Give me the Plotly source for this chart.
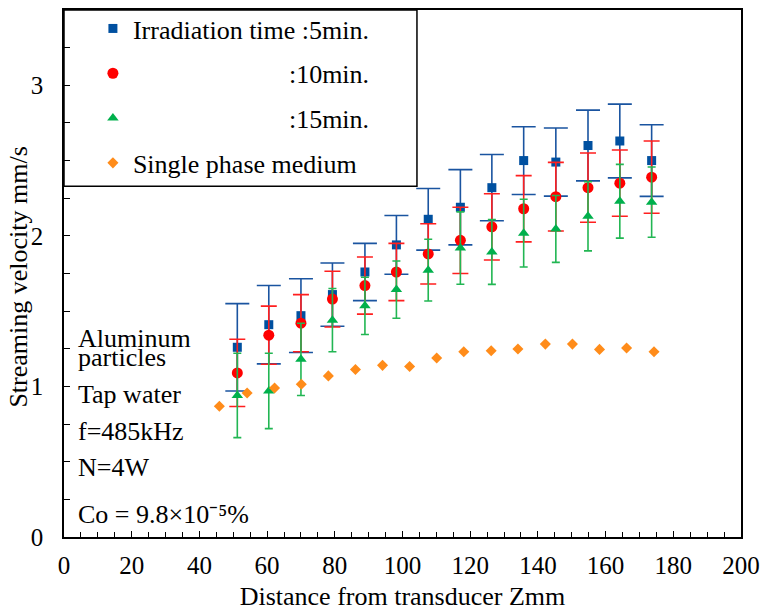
import plotly.graph_objects as go

# Distance from transducer (mm) for the irradiated-suspension measurements
z_irr = [51.2, 60.5, 70.0, 79.3, 88.9, 98.2, 107.6, 117.1, 126.4, 135.8, 145.3, 154.8, 164.2, 173.6]

# Streaming velocity (mm/s) and error half-widths per irradiation time
v_5min = [1.26, 1.41, 1.47, 1.61, 1.76, 1.94, 2.11, 2.19, 2.32, 2.50, 2.49, 2.60, 2.63, 2.50]
e_5min = [0.29, 0.26, 0.245, 0.21, 0.19, 0.195, 0.205, 0.25, 0.22, 0.225, 0.226, 0.235, 0.245, 0.238]

v_10min = [1.09, 1.34, 1.42, 1.58, 1.67, 1.76, 1.88, 1.97, 2.06, 2.18, 2.26, 2.32, 2.35, 2.39]
e_10min = [0.223, 0.193, 0.19, 0.185, 0.19, 0.19, 0.20, 0.22, 0.22, 0.22, 0.228, 0.23, 0.22, 0.24]

v_15min = [0.94, 0.97, 1.18, 1.44, 1.535, 1.643, 1.772, 1.919, 1.893, 2.018, 2.046, 2.13, 2.23, 2.224]
e_15min = [0.28, 0.25, 0.24, 0.21, 0.19, 0.19, 0.205, 0.24, 0.215, 0.225, 0.222, 0.23, 0.245, 0.233]

# Single phase medium (no particles)
z_single = [45.9, 54.1, 62.2, 70.1, 78.1, 86.1, 94.1, 102.1, 110.1, 118.1, 126.2, 134.1, 142.2, 150.2, 158.2, 166.2, 174.3]
v_single = [0.868, 0.956, 0.989, 1.015, 1.070, 1.112, 1.140, 1.132, 1.189, 1.230, 1.237, 1.248, 1.281, 1.281, 1.246, 1.255, 1.230]

x_ticks = [0, 20, 40, 60, 80, 100, 120, 140, 160, 180, 200]
y_ticks = [0, 1, 2, 3]

FONT = "Liberation Serif"
NBSP = "\u00a0"

# Plot-area geometry in pixels, used to place paper-referenced items
L, R, T, B = 64, 22, 5, 75
W, H = 765, 612
PW, PH = W - L - R, H - T - B


def px_x(px):
    return (px - L) / PW


def px_y(py):
    return (H - B - py) / PH


fig = go.Figure()

fig.add_trace(go.Scatter(
    x=z_irr, y=v_5min, mode="markers", name="Irradiation time :5min.",
    legendgroup="a",
    marker=dict(symbol="square", size=9, color="#0050A0"),
    error_y=dict(type="data", array=e_5min, visible=True,
                 color="#1A54A0", thickness=1.6, width=12),
))
fig.add_trace(go.Scatter(
    x=z_irr, y=v_10min, mode="markers", name=NBSP * 24 + ":10min.",
    legendgroup="b",
    marker=dict(symbol="circle", size=11, color="#FF0000"),
    error_y=dict(type="data", array=e_10min, visible=True,
                 color="#FF1F1F", thickness=1.6, width=8),
))
fig.add_trace(go.Scatter(
    x=z_irr, y=v_15min, mode="markers", name=NBSP * 24 + ":15min.",
    legendgroup="c",
    marker=dict(symbol="triangle-up", size=10, color="#00B04C"),
    error_y=dict(type="data", array=e_15min, visible=True,
                 color="#22B653", thickness=1.6, width=4),
))
fig.add_trace(go.Scatter(
    x=z_single, y=v_single, mode="markers", name="Single phase medium",
    legendgroup="d",
    marker=dict(symbol="diamond", size=8.5, color="#FF8C1A"),
))

# Framed box around the legend in the upper-left corner of the plot
fig.add_shape(type="rect", xref="paper", yref="paper",
              x0=0, x1=px_x(418), y0=px_y(183), y1=1,
              line=dict(color="black", width=1.5), fillcolor="white", layer="below")

notes = [
    ("Aluminum", 337),
    ("particles", 356),
    ("Tap water", 393),
    ("f=485kHz", 430),
    ("N=4W", 467),
    ("Co = 9.8×10⁻⁵%", 514),
]
for text, ypx in notes:
    fig.add_annotation(
        text=text, xref="paper", yref="paper",
        x=px_x(76), y=px_y(ypx),
        xanchor="left", yanchor="middle", showarrow=False,
        font=dict(family=FONT, size=26, color="black"),
    )

# Vertical axis title
fig.add_annotation(
    text="Streaming velocity mm/s", xref="paper", yref="paper",
    x=px_x(18), y=px_y(275), textangle=-90,
    xanchor="center", yanchor="middle", showarrow=False,
    font=dict(family=FONT, size=26, color="black"),
)

fig.update_layout(
    width=W, height=H,
    margin=dict(l=L, r=R, t=T, b=B),
    paper_bgcolor="white", plot_bgcolor="white",
    font=dict(family=FONT, size=26, color="black"),
    showlegend=True,
    legend=dict(
        x=px_x(93), y=1 + 5 / PH, xanchor="left", yanchor="top",
        bgcolor="rgba(0,0,0,0)", borderwidth=0,
        font=dict(family=FONT, size=26, color="black"),
        traceorder="grouped", tracegroupgap=8,
    ),
    xaxis=dict(
        range=[0, 200], tickvals=x_ticks, ticktext=[str(v) for v in x_ticks],
        showgrid=False, zeroline=False,
        showline=True, linecolor="black", linewidth=1.5, mirror=True,
        ticks="inside", ticklen=6, tickcolor="black", tickwidth=1,
        minor=dict(dtick=5, ticks="inside", ticklen=5, tickcolor="black", tickwidth=1),
        tickfont=dict(family=FONT, size=25, color="black"),
        ticklabelstandoff=5,
        title=dict(text="Distance from transducer Zmm", standoff=9,
                   font=dict(family=FONT, size=26, color="black")),
    ),
    yaxis=dict(
        range=[0, 3.5], tickvals=y_ticks, ticktext=[str(v) for v in y_ticks],
        showgrid=False, zeroline=False,
        showline=True, linecolor="black", linewidth=1.5, mirror=True,
        ticks="inside", ticklen=6, tickcolor="black", tickwidth=1,
        minor=dict(dtick=0.25, ticks="inside", ticklen=6, tickcolor="black", tickwidth=1),
        tickfont=dict(family=FONT, size=25, color="black"),
        ticklabelstandoff=14,
    ),
)

fig.write_html("out.html")
